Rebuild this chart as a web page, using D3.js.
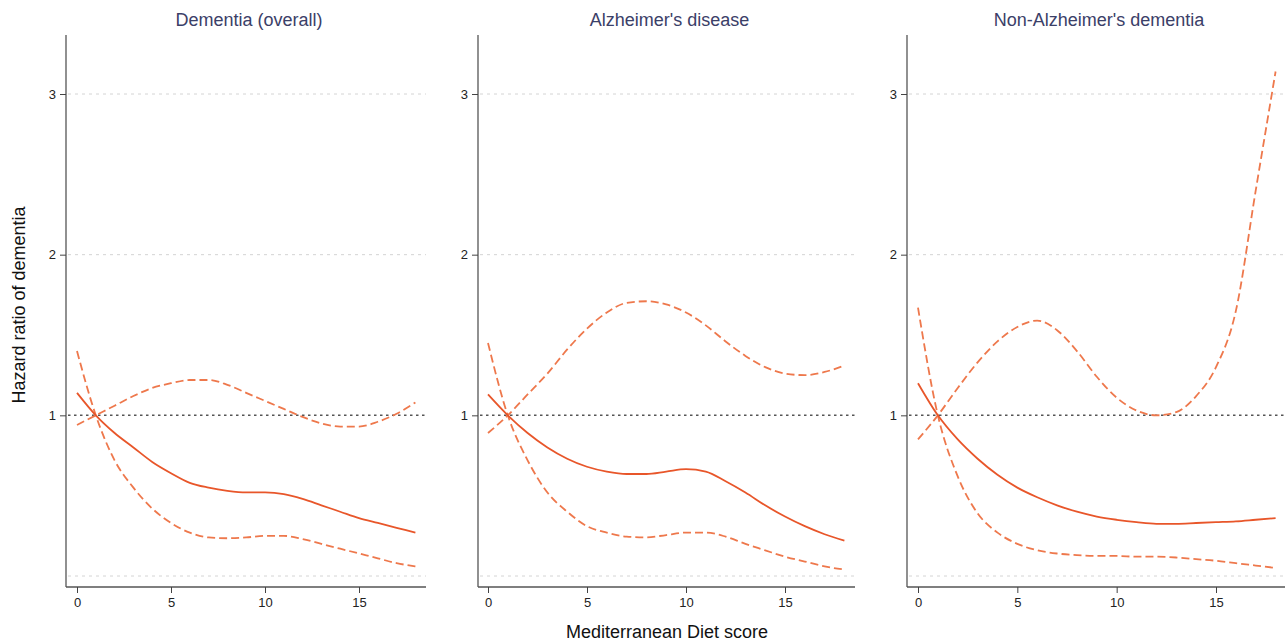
<!DOCTYPE html>
<html>
<head>
<meta charset="utf-8">
<script src="https://cdn.jsdelivr.net/npm/d3@7"></script>
<style>
  body { margin: 0; background: #fff; }
  svg { font-family: "Liberation Sans", Arial, sans-serif; }
</style>
</head>
<body>
<div class="chart"></div>
<script>
// Diet score values (x)
const scores = d3.range(0, 19);

const panelTitles = ["Dementia (overall)", "Alzheimer's disease", "Non-Alzheimer's dementia"];
const xTicks = [0, 5, 10, 15];
const yTicks = [1, 2, 3];
const gridValues = [0, 2, 3];

// Hazard ratio estimates, one value per score 0..18
const hrOverall = [1.14, 1.0, 0.89, 0.80, 0.71, 0.64, 0.58, 0.55, 0.53, 0.52, 0.52, 0.51, 0.48, 0.44, 0.40, 0.36, 0.33, 0.30, 0.27];
const upperOverall = [0.94, 1.0, 1.06, 1.12, 1.17, 1.20, 1.22, 1.22, 1.19, 1.14, 1.09, 1.04, 0.99, 0.95, 0.93, 0.93, 0.96, 1.01, 1.08];
const lowerOverall = [1.40, 1.0, 0.72, 0.55, 0.42, 0.33, 0.27, 0.24, 0.235, 0.24, 0.25, 0.25, 0.23, 0.20, 0.17, 0.14, 0.11, 0.08, 0.06];

const hrAlz = [1.13, 1.0, 0.89, 0.80, 0.73, 0.68, 0.65, 0.635, 0.635, 0.65, 0.665, 0.65, 0.59, 0.52, 0.44, 0.37, 0.31, 0.26, 0.22];
const upperAlz = [0.89, 1.0, 1.13, 1.26, 1.41, 1.54, 1.64, 1.70, 1.71, 1.69, 1.64, 1.56, 1.46, 1.37, 1.30, 1.26, 1.25, 1.27, 1.31];
const lowerAlz = [1.45, 1.0, 0.72, 0.52, 0.40, 0.31, 0.27, 0.245, 0.24, 0.255, 0.27, 0.27, 0.245, 0.20, 0.16, 0.12, 0.09, 0.06, 0.04];

const hrNonAlz = [1.20, 1.0, 0.85, 0.73, 0.63, 0.55, 0.49, 0.44, 0.40, 0.37, 0.35, 0.335, 0.325, 0.325, 0.33, 0.335, 0.34, 0.35, 0.36];
const upperNonAlz = [0.85, 1.0, 1.17, 1.33, 1.46, 1.55, 1.59, 1.53, 1.40, 1.24, 1.11, 1.03, 1.0, 1.02, 1.12, 1.30, 1.65, 2.40, 3.14];
const lowerNonAlz = [1.67, 1.0, 0.62, 0.39, 0.27, 0.20, 0.16, 0.14, 0.13, 0.125, 0.125, 0.12, 0.12, 0.115, 0.105, 0.095, 0.08, 0.065, 0.05];

const W = 1285, H = 642;
const axisTop = 35, axisBase = 587;
const solidColor = '#e8562a';
const dashColor = '#ee784c';

// panel placement (left axis and right edge)
const panels = [
    {title: panelTitles[0], left: 66, right: 426, x0: 77, x15: 359, hr: hrOverall, up: upperOverall, lo: lowerOverall},
    {title: panelTitles[1], left: 478, right: 855, x0: 488, x15: 785, hr: hrAlz, up: upperAlz, lo: lowerAlz},
    {title: panelTitles[2], left: 907, right: 1285, x0: 918, x15: 1216, hr: hrNonAlz, up: upperNonAlz, lo: lowerNonAlz}
];

const svg = d3.select('.chart')
    .append('svg')
        .attr('width', W)
        .attr('height', H);

// Shared y scale
const yScale = d3.scaleLinear()
    .domain([0, 3])
    .range([576, 94]);

panels.forEach(p => {
    const xScale = d3.scaleLinear()
        .domain([0, 15])
        .range([p.x0, p.x15]);

    const g = svg.append('g');

    // light grid lines
    g.selectAll('.grid')
        .data(gridValues)
        .enter()
            .append('line')
            .attr('x1', p.left + 2)
            .attr('x2', p.right)
            .attr('y1', d => yScale(d))
            .attr('y2', d => yScale(d))
            .attr('stroke', '#d4d4d4')
            .attr('stroke-width', 1)
            .attr('stroke-dasharray', '3,4');

    // reference line at HR = 1
    g.append('line')
        .attr('x1', p.left + 2)
        .attr('x2', p.right)
        .attr('y1', yScale(1))
        .attr('y2', yScale(1))
        .attr('stroke', '#555')
        .attr('stroke-width', 1.5)
        .attr('stroke-dasharray', '2.5,3.5');

    // Axes
    const yAxis = g.append('g')
        .attr('transform', `translate(${p.left},0)`)
        .call(d3.axisLeft(yScale).tickValues(yTicks).tickSize(6).tickPadding(4).tickFormat(d3.format('d')));
    yAxis.select('.domain').attr('d', `M0,${axisTop}V${axisBase}`).attr('stroke', '#555').attr('stroke-width', 1.3);
    yAxis.selectAll('.tick line').attr('stroke', '#444');
    yAxis.selectAll('text').attr('fill', '#222').style('font-size', '13px');

    const xAxis = g.append('g')
        .attr('transform', `translate(0,${axisBase})`)
        .call(d3.axisBottom(xScale).tickValues(xTicks).tickSize(6).tickPadding(5));
    xAxis.select('.domain').attr('d', `M${p.left},0H${p.right}`).attr('stroke', '#555').attr('stroke-width', 1.3);
    xAxis.selectAll('.tick line').attr('stroke', '#444');
    xAxis.selectAll('text').attr('fill', '#222').style('font-size', '13px');

    // curves
    const line = d3.line()
        .x((d, i) => xScale(scores[i]))
        .y(d => yScale(d))
        .curve(d3.curveMonotoneX);

    [p.up, p.lo].forEach(series => {
        g.append('path')
            .datum(series)
            .attr('d', line)
            .attr('fill', 'none')
            .attr('stroke', dashColor)
            .attr('stroke-width', 1.8)
            .attr('stroke-dasharray', '8,4');
    });
    g.append('path')
        .datum(p.hr)
        .attr('d', line)
        .attr('fill', 'none')
        .attr('stroke', solidColor)
        .attr('stroke-width', 1.8);

    // panel title
    g.append('text')
        .attr('x', (p.left + p.right) / 2 + 3)
        .attr('y', 26)
        .attr('text-anchor', 'middle')
        .attr('fill', '#3b4068')
        .style('font-size', '18px')
        .text(p.title);
});

// Add Labels
svg.append('text')
    .attr('transform', `translate(25, 305) rotate(-90)`)
    .attr('text-anchor', 'middle')
    .attr('fill', '#111')
    .style('font-size', '18px')
    .text('Hazard ratio of dementia');
svg.append('text')
    .attr('x', 667)
    .attr('y', 638)
    .attr('text-anchor', 'middle')
    .attr('fill', '#111')
    .style('font-size', '18px')
    .text('Mediterranean Diet score');
</script>
</body>
</html>
